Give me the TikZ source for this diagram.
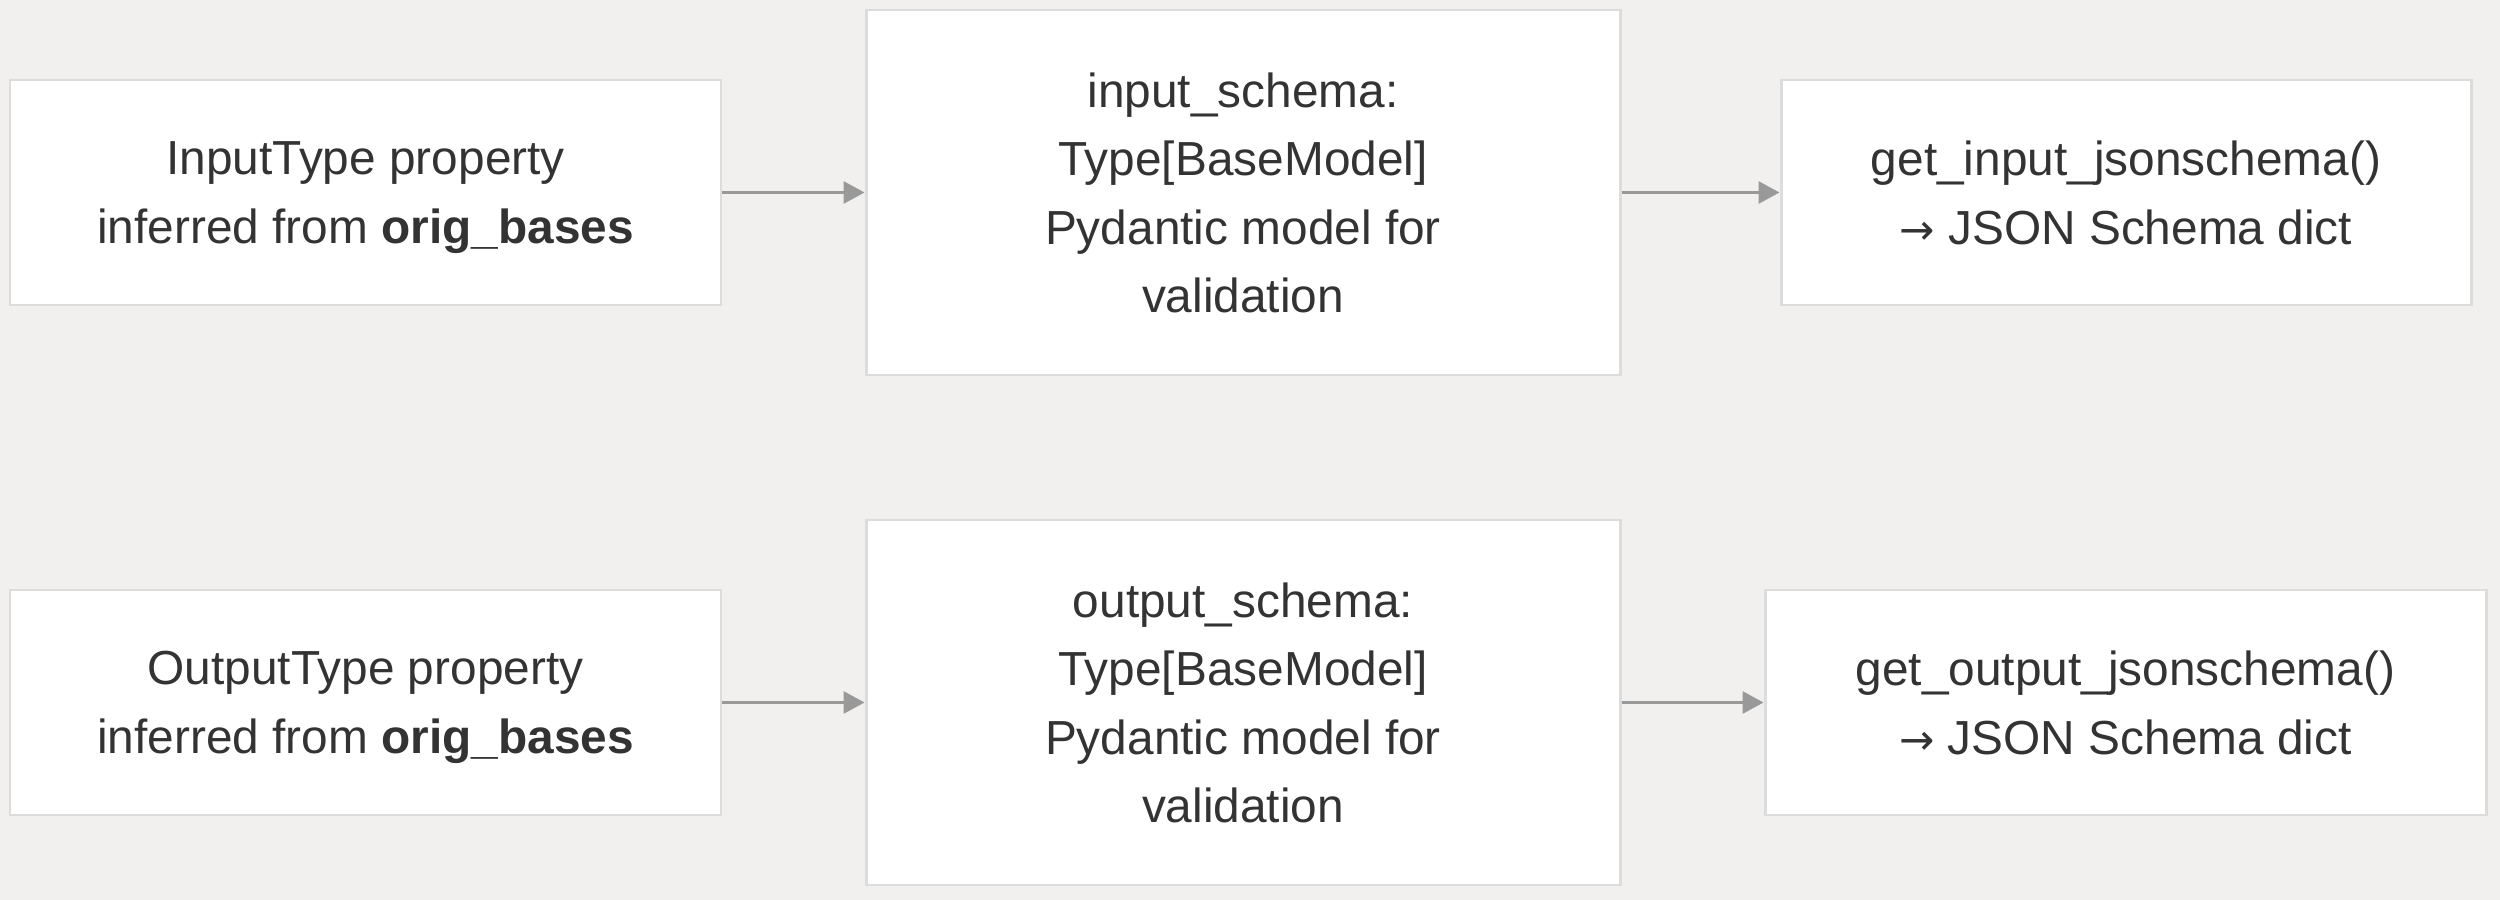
\documentclass[tikz,border=0pt]{standalone}
\usepackage{fontspec}
\setmainfont{Liberation Sans}
\newfontfamily\arrowfont{DejaVu Sans}
\usetikzlibrary{arrows.meta}

\definecolor{bgcol}{HTML}{F1F0EE}
\definecolor{edgecol}{HTML}{DCDCDC}
\definecolor{txtcol}{HTML}{333333}
\definecolor{arrcol}{HTML}{999999}

\newcommand{\toarrow}{{\arrowfont\fontsize{12}{19.5}\selectfont →}}

\tikzset{
  box/.style={draw=edgecol, line width=0.85pt, fill=white, inner sep=0pt,
    align=center, text=txtcol, text depth=0pt,
    font=\fontsize{13.6}{19.5}\selectfont},
  flow/.style={draw=arrcol, line width=0.85pt, -{Triangle[length=2.1mm,width=2.2mm]}}
}

\begin{document}
\begin{tikzpicture}[x=0.1mm, y=-0.1mm]
  \fill[bgcol] (0,0) rectangle (2500,900);

  \coordinate (InTypePos) at (365.5,192.5);
  \coordinate (InSchemaPos) at (1243,192.5);
  \coordinate (InJsonPos) at (2126,192.5);
  \coordinate (OutTypePos) at (365.5,702.5);
  \coordinate (OutSchemaPos) at (1243,702.5);
  \coordinate (OutJsonPos) at (2125.5,702.5);

  % input row
  \node[box, minimum width=71.1mm, minimum height=22.5mm] (InType) at (InTypePos)
    {InputType property\\inferred from \textbf{orig\_bases}};
  \node[box, minimum width=75.4mm, minimum height=36.5mm] (InSchema) at (InSchemaPos)
    {input\_schema:\\Type[BaseModel]\\Pydantic model for\\validation};
  \node[box, minimum width=69mm, minimum height=22.5mm] (InJson) at (InJsonPos)
    {get\_input\_jsonschema()\\\toarrow{} JSON Schema dict};

  % output row
  \node[box, minimum width=71.1mm, minimum height=22.5mm] (OutType) at (OutTypePos)
    {OutputType property\\inferred from \textbf{orig\_bases}};
  \node[box, minimum width=75.4mm, minimum height=36.5mm] (OutSchema) at (OutSchemaPos)
    {output\_schema:\\Type[BaseModel]\\Pydantic model for\\validation};
  \node[box, minimum width=72.1mm, minimum height=22.5mm] (OutJson) at (OutJsonPos)
    {get\_output\_jsonschema()\\\toarrow{} JSON Schema dict};

  \draw[flow] (InType) -- (InSchema);
  \draw[flow] (InSchema) -- (InJson);
  \draw[flow] (OutType) -- (OutSchema);
  \draw[flow] (OutSchema) -- (OutJson);
\end{tikzpicture}
\end{document}
